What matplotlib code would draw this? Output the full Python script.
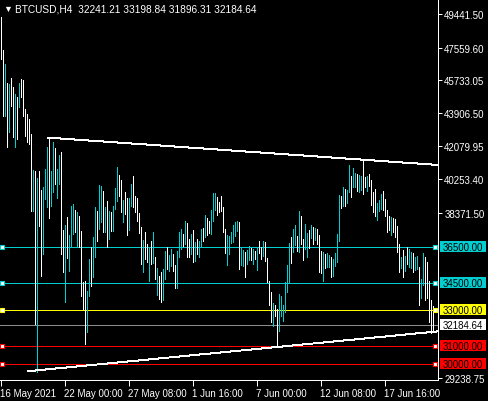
import pandas as pd
import numpy as np
import matplotlib
matplotlib.use("Agg")
import matplotlib.pyplot as plt
import matplotlib.transforms as mtransforms
from matplotlib.patches import Rectangle

# BTCUSD H4 bars
highs = [49275, 47444, 46666, 45612, 45556, 45889, 45390, 45001, 44835, 45612,
         45834, 45778, 44169, 43891, 43614, 42781, 40783, 40728, 40339, 40728,
         39673, 39840, 40839, 42060, 42559, 40728, 42337, 42004, 40839, 41616,
         41782, 37453, 37731, 38175, 37176, 38785, 38896, 38563, 38452, 38230,
         37398, 34567, 34623, 34068, 35844, 36510, 37065, 38730, 38508, 39951,
         39895, 39618, 38730, 39063, 38508, 38452, 38785, 39784, 40950, 40506,
         40228, 39118, 39562, 39229, 39229, 40006, 40450, 39340, 39229, 38397,
         37620, 36898, 37342, 36676, 36454, 36843, 37342, 35955, 35344, 34900,
         35122, 35289, 36288, 36510, 36066, 36399, 36121, 35511, 36288, 37342,
         37509, 37231, 37953, 37842, 36954, 37231, 37453, 36787, 36954, 36843,
         37509, 37564, 38286, 38119, 37953, 38563, 39507, 39507, 39285, 39008,
         39340, 38730, 37509, 37176, 37121, 37342, 37731, 37897, 37953, 37897,
         36510, 36343, 36232, 36343, 36565, 36454, 36399, 36288, 36454, 36843,
         36510, 36843, 36787, 35899, 34623, 34012, 33402, 33291, 33069, 33901,
         33790, 33291, 34567, 35511, 36732, 37065, 37509, 37731, 37121, 38508,
         38230, 36954, 37786, 37287, 37453, 37731, 37620, 37564, 37509, 37176,
         36288, 36232, 36121, 36177, 36066, 35955, 35844, 36177, 37231, 39396,
         39340, 39840, 39729, 39673, 41061, 40450, 40894, 40617, 40561, 40506,
         40450, 41338, 40395, 40450, 40561, 40228, 39562, 39729, 38952, 39118,
         39451, 39618, 39174, 38563, 38230, 38175, 38119, 38064, 37675, 36676,
         35955, 36343, 36010, 36510, 36399, 36232, 36177, 35955, 36010, 35400,
         34734, 36177, 35955, 35677, 34623, 33568, 33199]
lows = [46944, 43780, 43780, 42060, 42892, 44335, 42615, 42060, 42504, 44280,
        44835, 43780, 42670, 42337, 42226, 38508, 38508, 32236, 29572, 37675,
        34900, 36121, 39174, 38730, 38119, 38785, 39562, 40006, 39229, 40006,
        36121, 35122, 33457, 35899, 35178, 36565, 37231, 37342, 36565, 36510,
        33790, 33069, 31126, 31792, 33790, 34345, 34845, 35955, 36843, 37509,
        37897, 37342, 37342, 36510, 36954, 37398, 37398, 38619, 39063, 39340,
        38452, 37897, 38341, 37176, 37453, 38785, 38730, 38452, 37953, 37287,
        35566, 35122, 35844, 35677, 34623, 35566, 35622, 34734, 33846, 33624,
        33457, 33568, 34734, 35289, 35178, 35455, 35178, 34234, 34234, 35955,
        36399, 36565, 36676, 35955, 35955, 36121, 35677, 35733, 36121, 35955,
        36565, 36843, 37065, 37176, 37287, 37231, 37953, 38563, 38286, 38452,
        38508, 37342, 36177, 35511, 36121, 36732, 36787, 37121, 37398, 35289,
        35511, 35455, 34845, 35566, 35788, 35788, 35566, 35844, 35233, 36177,
        35844, 36010, 35733, 34567, 33291, 32347, 32125, 32680, 31015, 31848,
        32680, 32403, 32902, 34012, 34567, 35622, 36232, 36621, 36288, 36232,
        36676, 35788, 36399, 35955, 36454, 37009, 36676, 36898, 36676, 35122,
        35067, 34623, 35344, 35400, 35400, 34845, 34900, 35455, 35677, 36843,
        38674, 38785, 38785, 38952, 39562, 39285, 39840, 39840, 39618, 39562,
        39673, 39451, 39840, 39618, 39895, 38841, 38452, 38230, 38008, 38508,
        38619, 38563, 38230, 37342, 37453, 37176, 37342, 37065, 36232, 35122,
        35344, 34845, 35178, 35566, 35400, 35344, 35122, 35233, 35289, 33291,
        33680, 34401, 33568, 33680, 32347, 31737, 31896]
# u = bull bar, d = bear bar
direction = ("ddududdudu" "ddddddudud" "duuuduuduu" "dduduuudud" "ddduuduudu"
             "udududuuud" "dudduudddd" "duddududud" "duuduudduu" "ududdududu"
             "ududduuudd" "ddduuuuuud" "uuduududud" "dudddduddu" "uuuuuduudu"
             "dduudududd" "duduuduuuu" "duduuduudu" "uddudddduu" "uddddudddd"
             "ududuuduud" "uuddddd")
times = pd.date_range("2021-05-16 16:00", periods=len(highs), freq="4h")

hlines = [36500.00, 34500.00, 33000.00, 31000.00, 30000.00]
hline_colors = ["#00ced1", "#00ced1", "#ffff00", "#ff0000", "#ff0000"]
last_price = 32184.64
upper_trend = ([24, 181], [42559, 41338])
lower_trend = ([14, 216], [29600, 31780])
yticks = [49441.50, 47559.60, 45733.05, 43906.50, 42079.95, 40253.40, 38371.50, 29238.75]
xtick_idx = [0, 32, 64, 96, 128, 160, 192]

plt.rcParams["font.family"] = ["Liberation Sans", "DejaVu Sans"]

W, H = 489, 402
PX = 0.72  # one pixel in points
fig = plt.figure(figsize=(W / 100, H / 100), dpi=100, facecolor="black")
ax = fig.add_axes([0, 21 / H, 438 / W, 381 / H], facecolor="black")

x = np.arange(len(highs))
cols = ["#00ced1" if d == "u" else "white" for d in direction]
ax.vlines(x, lows, highs, colors=cols, lw=PX, antialiased=False, zorder=3)

xmin, xmax = -0.25, 218.75
ytop = 50255
ybot = ytop - 55.5 * 381
ax.set_xlim(xmin, xmax)
ax.set_ylim(ybot, ytop)

# trend lines, extended to the right edge
for (tx, ty) in [upper_trend, lower_trend]:
    k = (ty[1] - ty[0]) / (tx[1] - tx[0])
    ax.plot([tx[0], xmax], [ty[0], ty[0] + k * (xmax - tx[0])], color="white", lw=PX,
            antialiased=False, zorder=4)

for lvl, c in zip(hlines, hline_colors):
    ax.axhline(lvl, color=c, lw=PX, antialiased=False, zorder=2)
    ax.plot([0.75, 217.4], [lvl, lvl], "s", ms=3.0, mfc="white", mec=c, mew=0.8,
            clip_on=False, zorder=6)
ax.axhline(last_price, color="#8c8c8c", lw=PX, antialiased=False, zorder=2)

for s in ["top", "left"]:
    ax.spines[s].set_visible(False)
for s in ["right", "bottom"]:
    ax.spines[s].set_color("white")
    ax.spines[s].set_linewidth(PX)

ax.yaxis.tick_right()
ax.set_yticks(yticks)
ax.set_yticklabels([f"{v:.2f}" for v in yticks])
ax.tick_params(axis="y", colors="white", length=3, width=PX, labelsize=7, pad=1.5)

ax.set_xticks(xtick_idx)
labels = []
for i in xtick_idx:
    t = times[i]
    labels.append(f"{t.day} {t:%b %Y}" if i == 0 else f"{t.day} {t:%b %H:%M}")
ax.set_xticklabels(labels)
ax.tick_params(axis="x", colors="white", length=4, width=PX, labelsize=7, pad=2)
for lab in ax.get_xticklabels():
    lab.set_ha("left")

# price labels on the right scale
tr = mtransforms.blended_transform_factory(fig.transFigure, ax.transData)
box_h = 11 * 55.5
for lvl, c in list(zip(hlines, hline_colors)) + [(last_price, "white")]:
    fig.add_artist(Rectangle((440 / W, lvl - box_h / 2), 46 / W, box_h, transform=tr,
                             facecolor=c, edgecolor="none", zorder=7))
    fig.text(443 / W, lvl, f"{lvl:.2f}", transform=tr, color="black", fontsize=7,
             va="center", ha="left", zorder=8)

fig.text(3 / W, 1 - 9 / H, "\u25bc", color="white", fontsize=6.5, va="center", ha="left")
fig.text(15 / W, 1 - 9 / H, "BTCUSD,H4  32241.21 33198.84 31896.31 32184.64",
         color="white", fontsize=7.3, va="center", ha="left")

fig.savefig("out.png", dpi=100, facecolor="black")
